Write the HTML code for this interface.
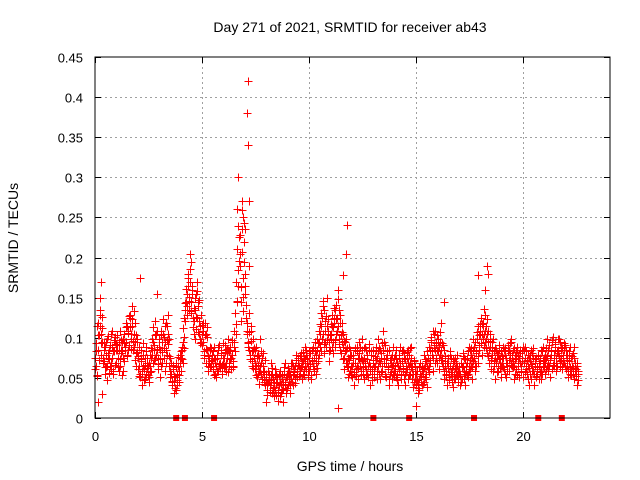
<!DOCTYPE html>
<html><head><meta charset="utf-8"><style>
body{margin:0;background:#fff;}
svg{display:block;font-family:"Liberation Sans",sans-serif;}
</style></head><body>
<svg id="chart" width="640" height="480">
<rect width="640" height="480" fill="#fff"/>
<text x="350" y="32" font-size="14" text-anchor="middle">Day 271 of 2021, SRMTID for receiver ab43</text>
<text x="0" y="0" font-size="14" text-anchor="middle" transform="translate(18,238) rotate(-90)">SRMTID / TECUs</text>
<text x="350" y="471" font-size="14" text-anchor="middle">GPS time / hours</text>
<g id="grid"></g>
<g id="ticks"></g>
<g id="points"></g>
<g id="marks"></g>
<rect x="95" y="57" width="515" height="361" fill="none" stroke="#000" stroke-width="1"/>
</svg>
<script>
const xTicks=[0,5,10,15,20];
const yTicks=[0,0.05,0.1,0.15,0.2,0.25,0.3,0.35,0.4,0.45];
const yTickLabels=["0","0.05","0.1","0.15","0.2","0.25","0.3","0.35","0.4","0.45"];
const seriesA=[
0.061,0.094,0.052,0.118,0.103,0.128,0.079,0.112,0.071,0.089,0.064,0.099,0.081,0.056,0.091,0.069,0.108,0.059,0.084,0.101,
0.069,0.091,0.059,0.109,0.081,0.054,0.098,0.071,0.089,0.119,0.079,0.109,0.091,0.129,0.099,0.139,0.089,0.119,0.081,0.099,
0.061,0.089,0.051,0.071,0.041,0.079,0.061,0.049,0.089,0.069,0.051,0.079,0.059,0.099,0.069,0.091,0.121,0.079,0.109,0.061,
0.089,0.051,0.109,0.069,0.101,0.059,0.119,0.079,0.129,0.099,0.051,0.069,0.041,0.061,0.031,0.051,0.069,0.041,0.059,0.079,
0.059,0.089,0.069,0.101,0.121,0.161,0.139,0.179,0.151,0.169,0.131,0.159,0.121,0.149,0.111,0.169,0.139,0.121,0.099,0.129,
0.091,0.109,0.079,0.119,0.069,0.101,0.059,0.089,0.071,0.079,0.061,0.089,0.069,0.051,0.079,0.059,0.091,0.069,0.081,0.059,
0.069,0.091,0.059,0.081,0.099,0.069,0.089,0.061,0.079,0.071,0.109,0.131,0.169,0.211,0.239,0.189,0.121,0.259,0.151,0.219,
0.179,0.141,0.109,0.089,0.131,0.079,0.109,0.071,0.099,0.061,0.089,0.051,0.079,0.059,0.099,0.069,0.049,0.081,0.059,0.041,
0.051,0.029,0.059,0.041,0.069,0.031,0.049,0.039,0.061,0.029,0.051,0.021,0.041,0.059,0.031,0.049,0.041,0.069,0.031,0.051,
0.041,0.059,0.031,0.049,0.069,0.041,0.061,0.049,0.079,0.051,0.069,0.059,0.081,0.049,0.071,0.059,0.089,0.061,0.069,0.051,
0.059,0.081,0.049,0.071,0.089,0.061,0.079,0.099,0.071,0.109,0.089,0.131,0.099,0.139,0.081,0.121,0.089,0.149,0.109,0.071,
0.099,0.129,0.081,0.119,0.089,0.141,0.109,0.159,0.099,0.129,0.081,0.119,0.089,0.061,0.099,0.069,0.051,0.089,0.059,0.079,
0.051,0.079,0.041,0.069,0.061,0.089,0.049,0.081,0.059,0.099,0.071,0.049,0.089,0.061,0.079,0.051,0.069,0.041,0.079,0.061,
0.069,0.051,0.089,0.059,0.099,0.071,0.049,0.081,0.059,0.109,0.069,0.091,0.051,0.079,0.061,0.041,0.069,0.049,0.089,0.059,
0.079,0.051,0.069,0.041,0.061,0.089,0.049,0.071,0.059,0.081,0.041,0.061,0.049,0.079,0.069,0.089,0.061,0.039,0.071,0.049,
0.041,0.059,0.031,0.049,0.069,0.041,0.061,0.079,0.051,0.071,0.039,0.061,0.089,0.069,0.101,0.079,0.059,0.091,0.109,0.069,
0.099,0.061,0.079,0.119,0.069,0.091,0.049,0.071,0.059,0.041,0.069,0.051,0.079,0.061,0.039,0.071,0.049,0.061,0.079,0.051,
0.059,0.041,0.069,0.049,0.081,0.059,0.041,0.069,0.051,0.089,0.061,0.079,0.049,0.071,0.089,0.059,0.081,0.099,0.069,0.091,
0.109,0.079,0.119,0.089,0.129,0.099,0.081,0.109,0.069,0.089,0.061,0.079,0.099,0.071,0.049,0.081,0.059,0.091,0.069,0.051,
0.069,0.089,0.061,0.079,0.051,0.069,0.091,0.059,0.081,0.099,0.071,0.049,0.079,0.061,0.089,0.069,0.051,0.081,0.059,0.071,
0.051,0.069,0.089,0.061,0.079,0.041,0.071,0.049,0.081,0.059,0.041,0.069,0.051,0.061,0.079,0.049,0.071,0.059,0.089,0.069,
0.079,0.061,0.099,0.069,0.091,0.051,0.079,0.061,0.101,0.069,0.089,0.059,0.081,0.099,0.071,0.089,0.061,0.079,0.069,0.091,
0.061,0.079,0.051,0.071,0.089,0.059,0.081,0.049,0.069,0.061,0.041,0.059];
const seriesB=[
0.083,0.054,0.104,0.072,0.115,0.093,0.126,0.068,0.095,0.063,0.078,0.047,0.102,0.074,0.061,0.088,0.083,0.097,0.066,0.092,
0.104,0.063,0.085,0.074,0.097,0.083,0.058,0.093,0.114,0.077,0.106,0.127,0.113,0.086,0.124,0.096,0.134,0.072,0.103,0.082,
0.077,0.052,0.073,0.058,0.094,0.047,0.066,0.083,0.062,0.054,0.068,0.057,0.087,0.078,0.113,0.072,0.104,0.086,0.067,0.098,
0.073,0.104,0.082,0.123,0.087,0.115,0.068,0.097,0.092,0.077,0.058,0.046,0.066,0.052,0.038,0.063,0.047,0.076,0.053,0.068,
0.084,0.073,0.112,0.087,0.143,0.128,0.174,0.146,0.186,0.133,0.154,0.114,0.137,0.098,0.126,0.158,0.107,0.147,0.093,0.116,
0.118,0.083,0.104,0.086,0.113,0.077,0.068,0.063,0.087,0.072,0.083,0.054,0.074,0.058,0.088,0.067,0.062,0.078,0.066,0.093,
0.063,0.082,0.068,0.086,0.057,0.083,0.074,0.097,0.063,0.088,0.083,0.117,0.146,0.184,0.196,0.228,0.163,0.207,0.134,0.243,
0.154,0.118,0.093,0.107,0.074,0.096,0.083,0.062,0.087,0.068,0.053,0.077,0.066,0.043,0.058,0.083,0.057,0.048,0.072,0.047,
0.043,0.058,0.047,0.032,0.054,0.062,0.038,0.027,0.053,0.044,0.033,0.052,0.028,0.043,0.054,0.036,0.063,0.042,0.051,0.038,
0.062,0.048,0.043,0.068,0.053,0.057,0.044,0.072,0.058,0.066,0.052,0.077,0.063,0.068,0.082,0.054,0.073,0.078,0.058,0.083,
0.067,0.053,0.072,0.087,0.058,0.083,0.068,0.062,0.093,0.078,0.117,0.083,0.146,0.092,0.108,0.127,0.097,0.123,0.083,0.104,
0.117,0.088,0.113,0.137,0.097,0.124,0.148,0.092,0.118,0.103,0.107,0.073,0.096,0.083,0.068,0.087,0.063,0.072,0.077,0.053,
0.068,0.057,0.087,0.052,0.083,0.062,0.073,0.088,0.054,0.072,0.063,0.087,0.068,0.053,0.074,0.092,0.058,0.083,0.047,0.072,
0.063,0.077,0.072,0.048,0.083,0.087,0.068,0.057,0.093,0.074,0.052,0.068,0.083,0.063,0.048,0.072,0.057,0.078,0.066,0.053,
0.058,0.073,0.047,0.078,0.068,0.053,0.083,0.062,0.048,0.074,0.057,0.082,0.068,0.053,0.087,0.063,0.048,0.072,0.058,0.043,
0.047,0.038,0.063,0.068,0.052,0.058,0.042,0.062,0.073,0.048,0.083,0.057,0.072,0.097,0.083,0.108,0.087,0.068,0.093,0.104,
0.083,0.088,0.107,0.072,0.093,0.058,0.077,0.053,0.068,0.062,0.047,0.083,0.057,0.052,0.073,0.048,0.062,0.068,0.053,0.058,
0.052,0.068,0.063,0.077,0.048,0.073,0.057,0.053,0.083,0.058,0.072,0.087,0.063,0.098,0.068,0.083,0.107,0.077,0.103,0.117,
0.093,0.117,0.098,0.136,0.108,0.087,0.123,0.077,0.096,0.072,0.088,0.058,0.083,0.087,0.068,0.057,0.078,0.073,0.062,0.083,
0.077,0.063,0.087,0.068,0.058,0.083,0.072,0.093,0.066,0.078,0.063,0.087,0.073,0.082,0.053,0.077,0.068,0.057,0.083,0.088,
0.068,0.057,0.083,0.072,0.048,0.062,0.078,0.067,0.058,0.087,0.073,0.052,0.063,0.077,0.068,0.057,0.048,0.083,0.072,0.063,
0.068,0.087,0.077,0.058,0.072,0.083,0.097,0.066,0.078,0.092,0.068,0.083,0.098,0.077,0.063,0.072,0.087,0.068,0.094,0.078,
0.072,0.058,0.083,0.063,0.053,0.077,0.062,0.088,0.058,0.052,0.068,0.047];
const seriesC=[
0.075,0.065,0.115,0.085,0.135,0.105,0.095,0.075,0.085,0.055,0.095,0.065,0.075,0.085,0.065,0.105,0.075,0.055,0.095,0.085,
0.085,0.075,0.095,0.065,0.085,0.095,0.075,0.105,0.085,0.095,0.115,0.085,0.125,0.105,0.115,0.085,0.105,0.095,0.065,0.095,
0.075,0.065,0.055,0.085,0.055,0.065,0.075,0.055,0.075,0.065,0.045,0.065,0.075,0.085,0.095,0.085,0.075,0.105,0.085,0.075,
0.085,0.065,0.095,0.105,0.075,0.095,0.085,0.115,0.105,0.065,0.075,0.055,0.045,0.065,0.045,0.035,0.055,0.065,0.045,0.075,
0.075,0.085,0.095,0.125,0.135,0.145,0.155,0.165,0.135,0.145,0.165,0.125,0.105,0.135,0.155,0.125,0.145,0.105,0.115,0.095,
0.105,0.095,0.075,0.105,0.085,0.065,0.075,0.085,0.065,0.075,0.065,0.075,0.055,0.065,0.075,0.085,0.065,0.085,0.055,0.075,
0.075,0.065,0.085,0.075,0.085,0.065,0.085,0.075,0.095,0.065,0.095,0.105,0.145,0.165,0.225,0.205,0.145,0.235,0.175,0.195,
0.165,0.125,0.105,0.095,0.085,0.115,0.065,0.085,0.075,0.085,0.065,0.075,0.055,0.075,0.065,0.055,0.075,0.065,0.045,0.055,
0.035,0.045,0.055,0.035,0.045,0.055,0.035,0.045,0.035,0.055,0.045,0.035,0.055,0.045,0.035,0.045,0.055,0.045,0.035,0.055,
0.055,0.045,0.055,0.065,0.045,0.065,0.055,0.065,0.055,0.075,0.065,0.055,0.075,0.065,0.055,0.075,0.065,0.085,0.075,0.065,
0.075,0.065,0.085,0.065,0.075,0.095,0.055,0.085,0.075,0.095,0.105,0.115,0.125,0.105,0.135,0.095,0.115,0.105,0.095,0.085,
0.105,0.115,0.095,0.125,0.135,0.105,0.125,0.115,0.135,0.085,0.095,0.105,0.075,0.095,0.085,0.065,0.075,0.055,0.085,0.065,
0.065,0.075,0.055,0.085,0.065,0.075,0.095,0.065,0.075,0.085,0.055,0.075,0.065,0.085,0.055,0.065,0.085,0.065,0.055,0.085,
0.055,0.065,0.085,0.075,0.065,0.055,0.085,0.075,0.065,0.085,0.095,0.055,0.075,0.065,0.085,0.055,0.075,0.065,0.055,0.075,
0.065,0.085,0.055,0.065,0.075,0.065,0.055,0.085,0.075,0.055,0.065,0.075,0.085,0.065,0.055,0.075,0.065,0.055,0.045,0.065,
0.055,0.045,0.035,0.055,0.045,0.065,0.055,0.045,0.065,0.055,0.065,0.075,0.065,0.085,0.095,0.075,0.105,0.085,0.075,0.085,
0.095,0.075,0.095,0.085,0.075,0.065,0.085,0.065,0.055,0.075,0.055,0.065,0.075,0.045,0.065,0.055,0.075,0.055,0.065,0.045,
0.065,0.055,0.045,0.065,0.075,0.055,0.065,0.075,0.055,0.065,0.085,0.065,0.075,0.085,0.075,0.095,0.065,0.115,0.085,0.105,
0.125,0.105,0.115,0.105,0.095,0.115,0.105,0.095,0.085,0.105,0.075,0.095,0.065,0.075,0.085,0.075,0.065,0.085,0.075,0.065,
0.065,0.075,0.085,0.055,0.075,0.065,0.085,0.075,0.095,0.065,0.085,0.065,0.055,0.075,0.085,0.065,0.075,0.085,0.065,0.075,
0.085,0.075,0.065,0.055,0.065,0.075,0.055,0.085,0.065,0.075,0.055,0.065,0.075,0.055,0.065,0.075,0.085,0.055,0.065,0.075,
0.055,0.075,0.065,0.085,0.065,0.075,0.085,0.095,0.065,0.085,0.075,0.065,0.085,0.075,0.095,0.085,0.065,0.075,0.085,0.065,
0.085,0.065,0.075,0.055,0.075,0.065,0.055,0.075,0.065,0.055,0.065,0.055];
const outlierHours=[0.3,0.25,0.15,0.35,2.1,2.9,4.45,4.5,6.7,6.65,6.85,7.15,7.1,7.15,7.2,6.9,7.0,7.2,11.75,11.7,11.6,11.35,16.3,17.9,18.3,18.35,18.2,8.0,8.8,15.0];
const outlierValues=[0.17,0.15,0.02,0.03,0.175,0.155,0.205,0.195,0.30,0.26,0.27,0.42,0.38,0.34,0.27,0.25,0.235,0.19,0.24,0.205,0.178,0.013,0.145,0.178,0.19,0.18,0.16,0.02,0.02,0.015];
const gapHours=[3.79,4.2,5.56,13.0,14.67,17.7,20.7,21.8];

const X0=95,X1=610,Y0=418,Y1=57;
const sx=h=>X0+h*(X1-X0)/24.05;
const sy=v=>Y0-v*(Y0-Y1)/0.45;
const NS="http://www.w3.org/2000/svg";
function mk(t,a,p){const e=document.createElementNS(NS,t);for(const k in a)e.setAttribute(k,a[k]);p.appendChild(e);return e;}
const grid=document.getElementById('grid'),ticks=document.getElementById('ticks'),pts=document.getElementById('points'),marks=document.getElementById('marks');
yTicks.forEach((v,i)=>{const y=Math.round(sy(v))+0.5;
 if(i>0&&i<yTicks.length-1){const g=mk('line',{x1:X0,x2:X1,y1:y,y2:y,stroke:'#a0a0a0','stroke-dasharray':'2,3'},grid);
 
 }
 mk('line',{x1:X0,x2:X0+6,y1:y,y2:y,stroke:'#000'},ticks);
 mk('line',{x1:X1-6,x2:X1,y1:y,y2:y,stroke:'#000'},ticks);
 const t=mk('text',{x:83,y:y+5,'font-size':13,'text-anchor':'end'},ticks);t.textContent=yTickLabels[i];
 
 
});
xTicks.forEach(h=>{const x=Math.round(sx(h))+0.5;
 if(h>0){const g=mk('line',{x1:x,x2:x,y1:Y1,y2:Y0,stroke:'#a0a0a0','stroke-dasharray':'2,3'},grid);
 
 }
 mk('line',{x1:x,x2:x,y1:Y0,y2:Y0-6,stroke:'#000'},ticks);
 mk('line',{x1:x,x2:x,y1:Y1,y2:Y1+6,stroke:'#000'},ticks);
 const t=mk('text',{x:x,y:441,'font-size':13,'text-anchor':'middle'},ticks);t.textContent=String(h);
 
 
});
function plus(h,v){const x=Math.round(sx(h))+0.5,y=Math.round(sy(v))+0.5;
 const p=mk('path',{d:`M${x-4} ${y}H${x+4}M${x} ${y-4}V${y+4}`,stroke:'#f00','stroke-width':1,fill:'none'},pts);
 
 }
seriesA.forEach((v,i)=>plus(i*0.05,v));
seriesC.forEach((v,i)=>plus(i*0.05+0.0125,v));
seriesB.forEach((v,i)=>plus(i*0.05+0.025,v));
outlierHours.forEach((h,i)=>plus(h,outlierValues[i]));
gapHours.forEach(h=>{const r=mk('rect',{x:sx(h)-3,y:Y0-3,width:6,height:6,fill:'#f00'},marks);
 
 });
</script>
</body></html>
